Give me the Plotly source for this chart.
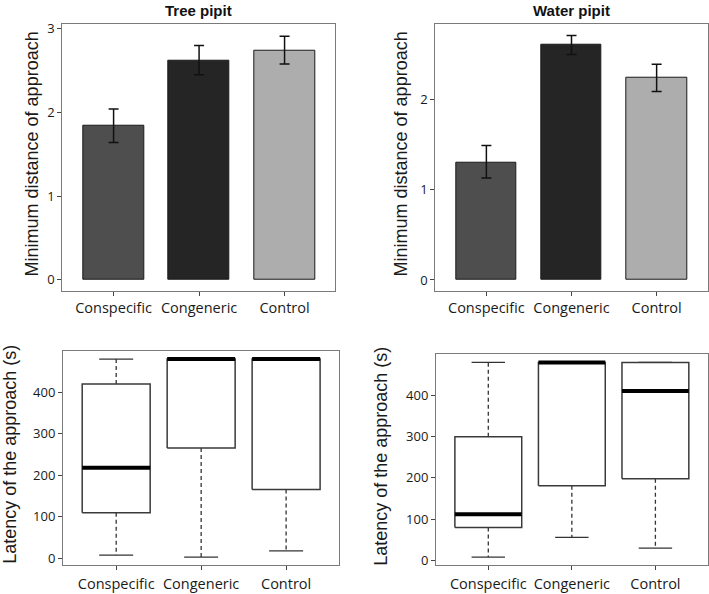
import plotly.graph_objects as go

W, H = 709, 594

categories = ["Conspecific", "Congeneric", "Control"]
bar_colors = ["#4e4e4e", "#252525", "#adadad"]

# Minimum distance of approach (mean and error)
tree_mean = [1.84, 2.62, 2.74]
tree_err_up = [0.20, 0.18, 0.17]
tree_err_down = [0.20, 0.17, 0.16]
water_mean = [1.30, 2.61, 2.24]
water_err_up = [0.19, 0.10, 0.15]
water_err_down = [0.17, 0.11, 0.15]

# Latency of approach (box statistics)
tree_lower = [8, 3, 18]
tree_q1 = [110, 266, 166]
tree_median = [218, 480, 480]
tree_q3 = [420, 480, 480]
tree_upper = [480, 480, 480]

water_lower = [8, 56, 30]
water_q1 = [80, 181, 198]
water_median = [112, 480, 411]
water_q3 = [300, 480, 480]
water_upper = [480, 480, 480]

y_ticks_top_tree = [0, 1, 2, 3]
y_ticks_top_water = [0, 1, 2]
y_ticks_bottom = [0, 100, 200, 300, 400]

xpos = list(range(len(categories)))

fig = go.Figure()

def px_x(a, b):
    return [a / W, b / W]

def px_y(top, bottom):
    return [1 - bottom / H, 1 - top / H]

TICKFONT = dict(family="Open Sans", size=13, color="#1a1a1a")
XTICKFONT = dict(family="Open Sans", size=14.5, color="#1a1a1a")

def add_bars(mean, up, down, xa, ya):
    fig.add_trace(go.Bar(
        x=xpos, y=mean, width=0.71,
        marker=dict(color=bar_colors, line=dict(color="#1a1a1a", width=1)),
        error_y=dict(type="data", symmetric=False, array=up, arrayminus=down,
                     color="#111111", thickness=1.5, width=5),
        xaxis=xa, yaxis=ya, showlegend=False, hoverinfo="skip"))

def add_boxes(lower, q1, med, q3, upper, xa, ya):
    bw = 0.8
    bx, by, mx, my, wx, wy, cx, cy = [], [], [], [], [], [], [], []
    for i in xpos:
        l, r = i - bw / 2, i + bw / 2
        bx += [l, r, r, l, l, None]
        by += [q1[i], q1[i], q3[i], q3[i], q1[i], None]
        mx += [l, r, None]
        my += [med[i], med[i], None]
        wx += [i, i, None, i, i, None]
        wy += [q3[i], upper[i], None, q1[i], lower[i], None]
        cx += [i - bw / 4, i + bw / 4, None, i - bw / 4, i + bw / 4, None]
        cy += [upper[i], upper[i], None, lower[i], lower[i], None]
    fig.add_trace(go.Scatter(x=wx, y=wy, mode="lines",
                             line=dict(color="#333333", width=1.3, dash="4px,3px"),
                             xaxis=xa, yaxis=ya, showlegend=False, hoverinfo="skip"))
    fig.add_trace(go.Scatter(x=cx, y=cy, mode="lines",
                             line=dict(color="#333333", width=1.3),
                             xaxis=xa, yaxis=ya, showlegend=False, hoverinfo="skip"))
    fig.add_trace(go.Scatter(x=bx, y=by, mode="lines", fill="toself", fillcolor="white",
                             line=dict(color="#3a3a3a", width=1.5),
                             xaxis=xa, yaxis=ya, showlegend=False, hoverinfo="skip"))
    fig.add_trace(go.Scatter(x=mx, y=my, mode="lines",
                             line=dict(color="#000000", width=4),
                             xaxis=xa, yaxis=ya, showlegend=False, hoverinfo="skip"))

add_bars(tree_mean, tree_err_up, tree_err_down, "x", "y")
add_bars(water_mean, water_err_up, water_err_down, "x2", "y2")
add_boxes(tree_lower, tree_q1, tree_median, tree_q3, tree_upper, "x3", "y3")
add_boxes(water_lower, water_q1, water_median, water_q3, water_upper, "x4", "y4")

def xaxis(domain, anchor, rng, standoff=0):
    return dict(domain=domain, anchor=anchor, range=rng, tickvals=xpos, ticktext=categories,
                showline=True, mirror=True, linecolor="#7a7a7a", linewidth=1,
                ticks="outside", ticklen=4, tickcolor="#444", showgrid=False,
                zeroline=False, tickfont=XTICKFONT, fixedrange=True,
                ticklabelstandoff=standoff)

def yaxis(domain, anchor, rng, tv):
    return dict(domain=domain, anchor=anchor, range=rng, tickvals=tv,
                showline=True, mirror=True, linecolor="#7a7a7a", linewidth=1,
                ticks="outside", ticklen=4, tickcolor="#444", showgrid=False,
                zeroline=False, tickfont=TICKFONT, fixedrange=True)

fig.update_layout(
    width=W, height=H, margin=dict(l=0, r=0, t=0, b=0),
    paper_bgcolor="white", plot_bgcolor="white", bargap=0,
    xaxis=xaxis(px_x(62.3, 335), "y", [-0.60, 2.59]),
    yaxis=yaxis(px_y(20, 290.7), "x", [-0.13, 3.06], y_ticks_top_tree),
    xaxis2=xaxis(px_x(435.3, 707.7), "y2", [-0.60, 2.60]),
    yaxis2=yaxis(px_y(20, 290.7), "x2", [-0.12, 2.84], y_ticks_top_water),
    xaxis3=xaxis(px_x(63, 339.3), "y3", [-0.626, 2.626], 2),
    yaxis3=yaxis(px_y(351.7, 568.3), "x3", [-15, 499.5], y_ticks_bottom),
    xaxis4=xaxis(px_x(436, 707.7), "y4", [-0.626, 2.626], 2),
    yaxis4=yaxis(px_y(355, 568.3), "x4", [-10.3, 500], y_ticks_bottom),
)

TITLEFONT = dict(family="Liberation Sans", size=15, color="#111111")
YTFONT = dict(family="Liberation Sans", size=18, color="#1a1a1a")

annos = [
    dict(text="<b>Tree pipit</b>", x=198.6 / W, y=1 - 6.5 / H, font=TITLEFONT),
    dict(text="<b>Water pipit</b>", x=571.5 / W, y=1 - 6.5 / H, font=TITLEFONT),
    dict(text="Minimum distance of approach", x=31.5 / W, y=1 - 152 / H, font=YTFONT, textangle=-90),
    dict(text="Minimum distance of approach", x=400.5 / W, y=1 - 152 / H, font=YTFONT, textangle=-90),
    dict(text="Latency of the approach (s)", x=10 / W, y=1 - 457 / H, font=YTFONT, textangle=-90),
    dict(text="Latency of the approach (s)", x=381 / W, y=1 - 459 / H, font=YTFONT, textangle=-90),
]
for a in annos:
    fig.add_annotation(xref="paper", yref="paper", showarrow=False,
                       xanchor="center", yanchor="middle", **a)

fig.write_html("out.html", config={"displayModeBar": False},
               post_script="document.body.style.margin='0px';")
